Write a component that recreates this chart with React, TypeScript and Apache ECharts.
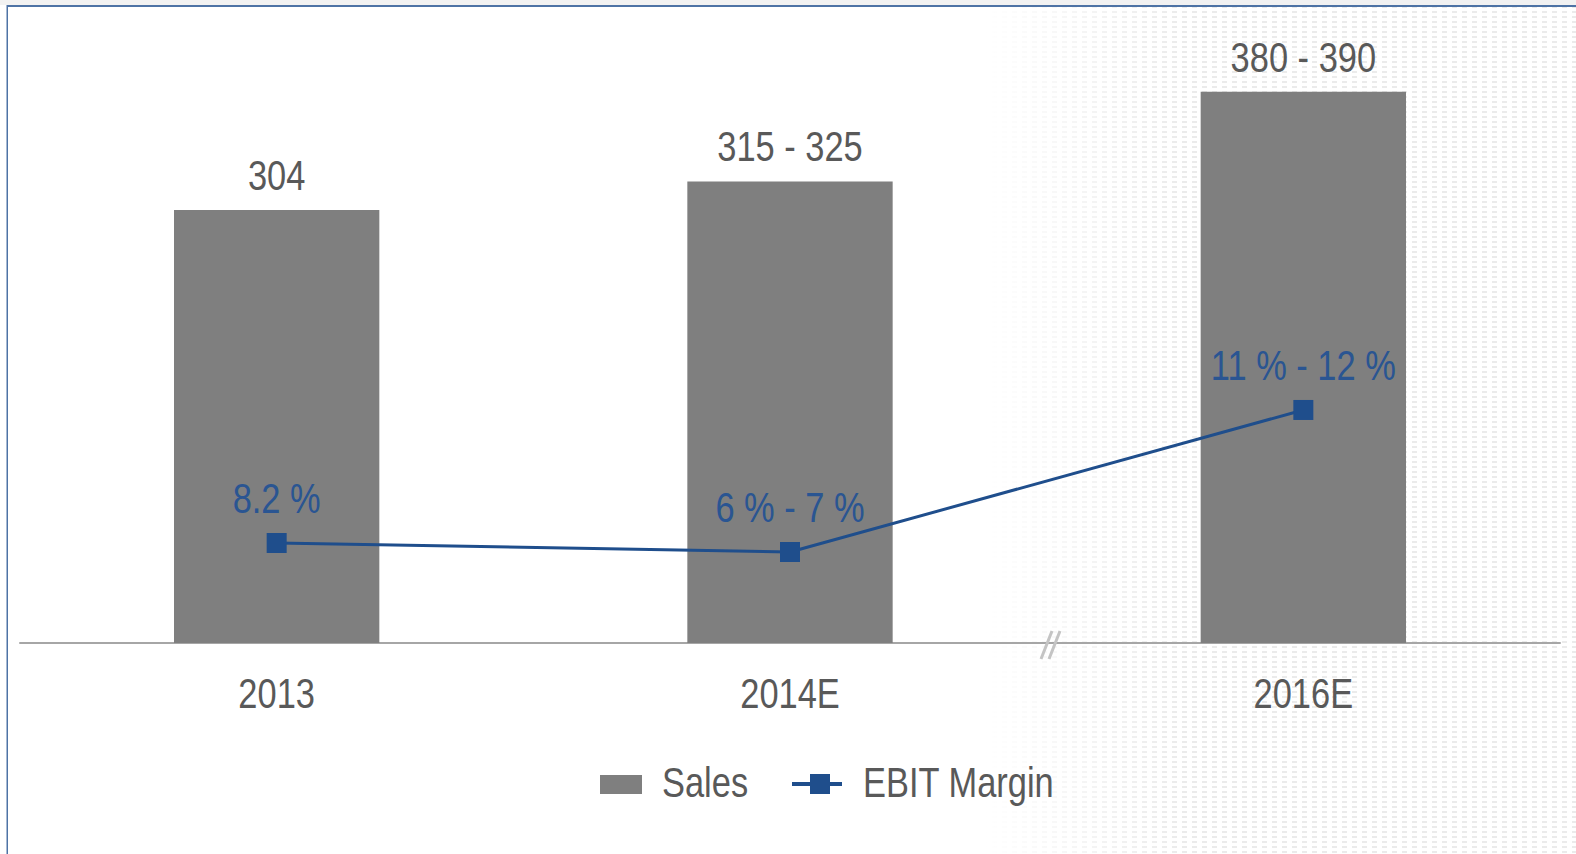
import React, { useEffect, useRef } from "react";
import * as echarts from "echarts";

const categories = ["2013", "2014E", "2016E"];
const salesValues = [304, 324, 387];
const salesLabels = ["304", "315 - 325", "380 - 390"];
const marginPlotValues = [7.02, 6.39, 16.36];
const marginLabels = ["8.2 %", "6 % - 7 %", "11 % - 12 %"];
const legendNames = ["Sales", "EBIT Margin"];

const FONT = '"Liberation Sans", Arial, sans-serif';
const FS = 42;
const NARROW = 0.82;
const TEXT = "#595959";
const BLUE = "#1f4e8c";
const LABEL_BLUE = "#2a5592";
const BAR = "#7f7f7f";

const patternSvg =
  "data:image/svg+xml;utf8," +
  encodeURIComponent(
    '<svg xmlns="http://www.w3.org/2000/svg" width="10" height="5"><rect x="2" y="1" width="5" height="2" fill="#ebebeb"/></svg>'
  );

function narrowText(x: number, y: number, text: string, color: string, align: string) {
  return {
    type: "text",
    x,
    y,
    scaleX: NARROW,
    z: 20,
    silent: true,
    style: {
      text,
      fill: color,
      font: `${FS}px ${FONT}`,
      fontSize: FS,
      fontFamily: FONT,
      textAlign: align,
      textVerticalAlign: "middle",
    },
  };
}

export default function App() {
  const ref = useRef<HTMLDivElement>(null);
  useEffect(() => {
    if (!ref.current) return;
    const chart = echarts.init(ref.current, null, { renderer: "svg" });
    const background: any[] = [
      {
        type: "rect",
        z: -10,
        silent: true,
        shape: { x: 985, y: 7, width: 600, height: 860 },
        style: {
          fill: { image: patternSvg, repeat: "repeat", imageWidth: 10, imageHeight: 5 } as any,
        },
      },
      {
        type: "rect",
        z: -9,
        silent: true,
        shape: { x: 984, y: 7, width: 200, height: 860 },
        style: {
          fill: new echarts.graphic.LinearGradient(0, 0, 1, 0, [
            { offset: 0, color: "rgba(255,255,255,1)" },
            { offset: 1, color: "rgba(255,255,255,0)" },
          ]),
        },
      },
      { type: "rect", z: -8, silent: true, shape: { x: 0, y: 0, width: 1576, height: 5 }, style: { fill: "#f2f2f2" } },
      { type: "rect", z: -8, silent: true, shape: { x: 7, y: 5, width: 1569, height: 2 }, style: { fill: "#4e73a5" } },
      { type: "rect", z: -8, silent: true, shape: { x: 6.5, y: 5, width: 1.5, height: 860 }, style: { fill: "#4e73a5" } },
      { type: "line", z: 10, silent: true, shape: { x1: 1041, y1: 659, x2: 1052, y2: 631 }, style: { stroke: "#c4c4c4", lineWidth: 3 } },
      { type: "line", z: 10, silent: true, shape: { x1: 1049, y1: 659, x2: 1060, y2: 631 }, style: { stroke: "#c4c4c4", lineWidth: 3 } },
    ];

    chart.setOption({
      animation: false,
      backgroundColor: "#ffffff",
      textStyle: { fontFamily: FONT },
      legend: { show: false, data: legendNames },
      grid: { left: 20, right: 16, top: 2, bottom: 211 },
      xAxis: {
        type: "category",
        data: categories,
        axisLine: { lineStyle: { color: "#a6a6a6", width: 2 } },
        axisTick: { show: false },
        axisLabel: { show: false },
      },
      yAxis: [
        { type: "value", min: 0, max: 450, show: false, splitLine: { show: false } },
        { type: "value", min: 0, max: 45, show: false, splitLine: { show: false } },
      ],
      series: [
        {
          name: legendNames[0],
          type: "bar",
          data: salesValues,
          barWidth: "40%",
          itemStyle: { color: BAR },
        },
        {
          name: legendNames[1],
          type: "line",
          yAxisIndex: 1,
          data: marginPlotValues,
          symbol: "rect",
          symbolSize: 20,
          itemStyle: { color: BLUE },
          lineStyle: { color: BLUE, width: 3 },
        },
      ],
    });

    // Texts placed through the chart's own scales, drawn narrow (condensed look)
    const texts: any[] = [];
    categories.forEach((c, i) => {
      const pb = chart.convertToPixel({ seriesIndex: 0 }, [i, salesValues[i]]) as number[];
      texts.push(narrowText(pb[0], pb[1] - 35, salesLabels[i], TEXT, "center"));
      const pl = chart.convertToPixel({ seriesIndex: 1 }, [i, marginPlotValues[i]]) as number[];
      texts.push(narrowText(pl[0], pl[1] - 45, marginLabels[i], LABEL_BLUE, "center"));
      const px = chart.convertToPixel({ xAxisIndex: 0 }, i) as number;
      const base = chart.convertToPixel({ seriesIndex: 0 }, [i, 0]) as number[];
      texts.push(narrowText(px, base[1] + 50, c, TEXT, "center"));
    });

    // Legend
    const ly = 784;
    const legend: any[] = [
      { type: "rect", z: 20, silent: true, shape: { x: 600, y: ly - 9, width: 42, height: 19 }, style: { fill: BAR } },
      narrowText(662, ly - 2, legendNames[0], TEXT, "left"),
      { type: "line", z: 20, silent: true, shape: { x1: 792, y1: ly, x2: 842, y2: ly }, style: { stroke: BLUE, lineWidth: 4 } },
      { type: "rect", z: 21, silent: true, shape: { x: 810, y: ly - 10, width: 20, height: 20 }, style: { fill: BLUE } },
      narrowText(863, ly - 2, legendNames[1], TEXT, "left"),
    ];

    chart.setOption({ graphic: [...background, ...texts, ...legend] });
    return () => chart.dispose();
  }, []);
  return <div ref={ref} style={{ width: 1576, height: 854, position: "fixed", left: 0, top: 0 }} />;
}
